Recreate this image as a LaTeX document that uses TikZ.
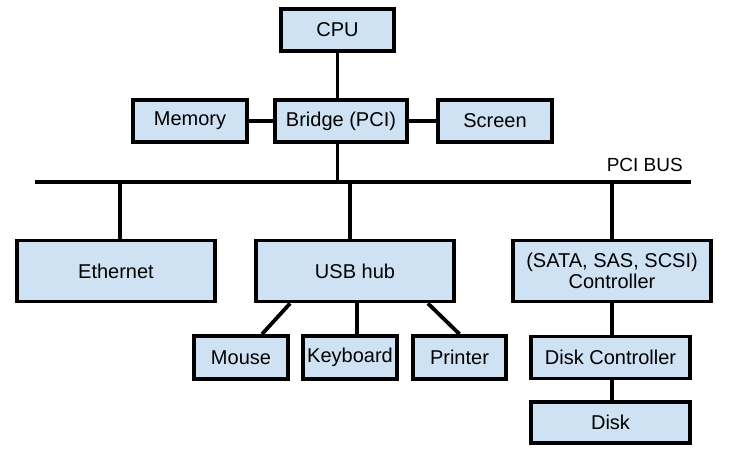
\documentclass[tikz,border=0pt]{standalone}
\usepackage{fontspec}
\setmainfont{Liberation Sans}
\usetikzlibrary{calc}
\definecolor{boxblue}{RGB}{207,226,243}

\begin{document}
\begin{tikzpicture}[x=1pt,y=-1pt,
  unit/.style={draw,fill=boxblue,line width=3.8pt,inner sep=0pt,
    font=\fontsize{20}{21}\selectfont,align=center},
  wire/.style={line width=3.8pt}]
\useasboundingbox (0,0) rectangle (730,458);
% top part
\node[unit,minimum width=113pt,minimum height=42pt](cpu) at (337.5,30){CPU};
\node[unit,minimum width=132pt,minimum height=42pt](bridge) at (341,121){Bridge (PCI)};
\node[unit,minimum width=114pt,minimum height=42pt](mem) at (190,121){Memory};
\node[unit,minimum width=114pt,minimum height=42pt](scr) at (495,121){Screen};
% bus
\coordinate (busl) at (35,182);
\coordinate (busr) at (691,182);
\node[font=\fontsize{19}{21}\selectfont,anchor=south east,inner sep=0pt](buslabel) at (683,172){PCI BUS};
% devices on the bus
\node[unit,minimum width=198pt,minimum height=61pt](eth) at (116,271){Ethernet};
\node[unit,minimum width=198pt,minimum height=61pt](usb) at (355,271){USB hub};
\node[unit,minimum width=198pt,minimum height=61pt](sata) at (612,271){(SATA, SAS, SCSI)\\Controller};
% usb devices
\node[unit,minimum width=94pt,minimum height=43pt](mouse) at (241,357.5){Mouse};
\node[unit,minimum width=94pt,minimum height=43pt](kbd) at (350,357.5){Keyboard};
\node[unit,minimum width=93pt,minimum height=43pt](prn) at (459.5,357.5){Printer};
% disks
\node[unit,minimum width=159pt,minimum height=42pt](dctl) at (610.5,357.5){Disk Controller};
\node[unit,minimum width=159pt,minimum height=41pt](disk) at (610.5,422.5){Disk};

\draw[wire] (cpu.south) -- (cpu.south |- bridge.north);
\draw[wire] (mem) -- (bridge);
\draw[wire] (bridge) -- (scr);
\draw[wire] (busl) -- (busr);
\draw[wire] (bridge.south -| cpu.south) -- (cpu.south |- busl);
\draw[wire] (busl -| 120,0) -- (eth.north -| 120,0);
\draw[wire] (busl -| usb.north) ++(-5,0) -- ($(usb.north)+(-5,0)$);
\draw[wire] (busl -| sata.north) -- (sata.north);
\draw[wire] ($(usb.south west)+(36,0)$) -- ($(mouse.north)+(21,0)$);
\draw[wire] ($(usb.south)+(2,0)$) -- ($(kbd.north)+(7,0)$);
\draw[wire] ($(usb.south east)+(-28,0)$) -- (prn.north);
\draw[wire] (sata.south) -- (sata.south |- dctl.north);
\draw[wire] (dctl.south -| sata.south) -- (sata.south |- disk.north);
\end{tikzpicture}
\end{document}
